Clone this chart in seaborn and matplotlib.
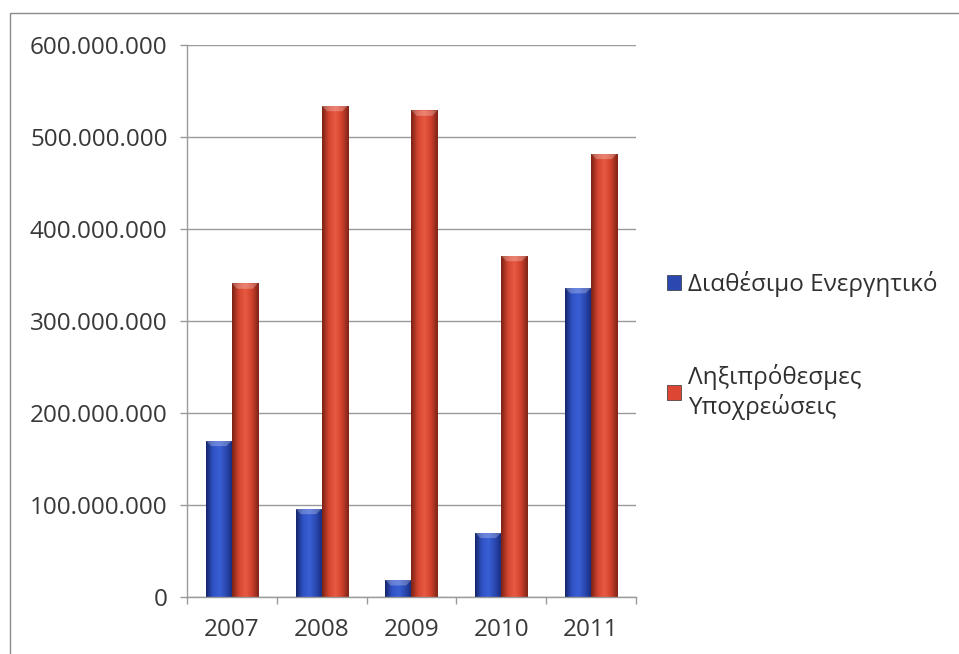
import numpy as np
import pandas as pd
import matplotlib
matplotlib.use("Agg")
import matplotlib.pyplot as plt
import matplotlib.patches as mpatches
from matplotlib.colors import LinearSegmentedColormap
from matplotlib.ticker import FuncFormatter, FixedLocator
import seaborn as sns

years = ["2007", "2008", "2009", "2010", "2011"]
available_assets = [170_000_000, 96_000_000, 18_500_000, 70_000_000, 336_000_000]
overdue_liabilities = [341_000_000, 534_000_000, 529_000_000, 371_000_000, 482_000_000]
series_names = ["Διαθέσιμο Ενεργητικό", "Ληξιπρόθεσμες\nΥποχρεώσεις"]

df = pd.DataFrame({
    "year": years * 2,
    "value": available_assets + overdue_liabilities,
    "series": [series_names[0]] * len(years) + [series_names[1]] * len(years),
})

sns.set_theme(style="white")
plt.rcParams["font.family"] = ["Open Sans", "DejaVu Sans"]

palette = {series_names[0]: "#2a48b0", series_names[1]: "#dc4632"}
shades = {
    series_names[0]: ["#14256a", "#2f52c4", "#3a60d6", "#2a48b0", "#152a78"],
    series_names[1]: ["#7a2215", "#d44530", "#e85a42", "#cf402c", "#7e2416"],
}

fig = plt.figure(figsize=(9.59, 6.54), dpi=100)
ax = fig.add_axes([0.195, 0.0872, 0.468, 0.844])

sns.barplot(data=df, x="year", y="value", hue="series", palette=palette,
            width=0.58, dodge=True, gap=0, saturation=1, ax=ax,
            edgecolor="#3a1a10", linewidth=0.6, legend=True)

# bevelled shading on each bar
for container, name in zip(ax.containers, series_names):
    cmap = LinearSegmentedColormap.from_list(name, shades[name])
    grad = np.linspace(0, 1, 64).reshape(1, -1)
    for patch in container.patches:
        x0, y0 = patch.get_x(), patch.get_y()
        w, h = patch.get_width(), patch.get_height()
        im = ax.imshow(grad, cmap=cmap, aspect="auto",
                       extent=[x0, x0 + w, y0, y0 + h], zorder=patch.get_zorder() + 0.1,
                       interpolation="bicubic")
        im.set_clip_path(patch)
        cap = 6_000_000
        ax.add_patch(mpatches.Polygon(
            [[x0, y0 + h], [x0 + w, y0 + h], [x0 + w * 0.8, y0 + h - cap], [x0 + w * 0.2, y0 + h - cap]],
            closed=True, facecolor="white", alpha=0.25, edgecolor="none",
            zorder=patch.get_zorder() + 0.2))

ax.set_xlim(-0.5, len(years) - 0.5)
ax.set_ylim(0, 600_000_000)
ax.set_yticks(np.arange(0, 600_000_001, 100_000_000))
ax.yaxis.set_major_formatter(FuncFormatter(lambda v, p: f"{int(v):,}".replace(",", ".")))
ax.xaxis.set_minor_locator(FixedLocator(np.arange(-0.5, len(years), 1.0)))

ax.set_xlabel("")
ax.set_ylabel("")
ax.grid(axis="y", color="#9a9a9a", linewidth=1.0)
ax.set_axisbelow(True)
for s in ["top", "right"]:
    ax.spines[s].set_visible(False)
for s in ["left", "bottom"]:
    ax.spines[s].set_color("#9a9a9a")
    ax.spines[s].set_linewidth(1.0)

ax.tick_params(axis="y", which="major", left=True, length=5, width=1, color="#9a9a9a",
               labelsize=17.5, labelcolor="#383838", pad=9)
ax.tick_params(axis="x", which="major", bottom=False, labelsize=17.5, labelcolor="#383838", pad=9)
ax.tick_params(axis="x", which="minor", bottom=True, length=5, width=1, color="#9a9a9a")

handles, labels = ax.get_legend_handles_labels()
leg = ax.legend(handles, labels, loc="center left", bbox_to_anchor=(1.07, 0.455),
                frameon=False, fontsize=17.5, labelcolor="#303030",
                borderaxespad=0, borderpad=0,
                handlelength=0.55, handleheight=0.55, handletextpad=0.3, labelspacing=2.75)
for h in leg.legend_handles:
    h.set_edgecolor("#333333")
    h.set_linewidth(0.5)

fig.add_artist(mpatches.Rectangle((10 / 959, -0.01), 1.0, 1 - 13 / 654 + 0.01,
                                  transform=fig.transFigure, fill=False,
                                  edgecolor="#8a8a8a", linewidth=1.0))

fig.savefig("out.png", dpi=100)
